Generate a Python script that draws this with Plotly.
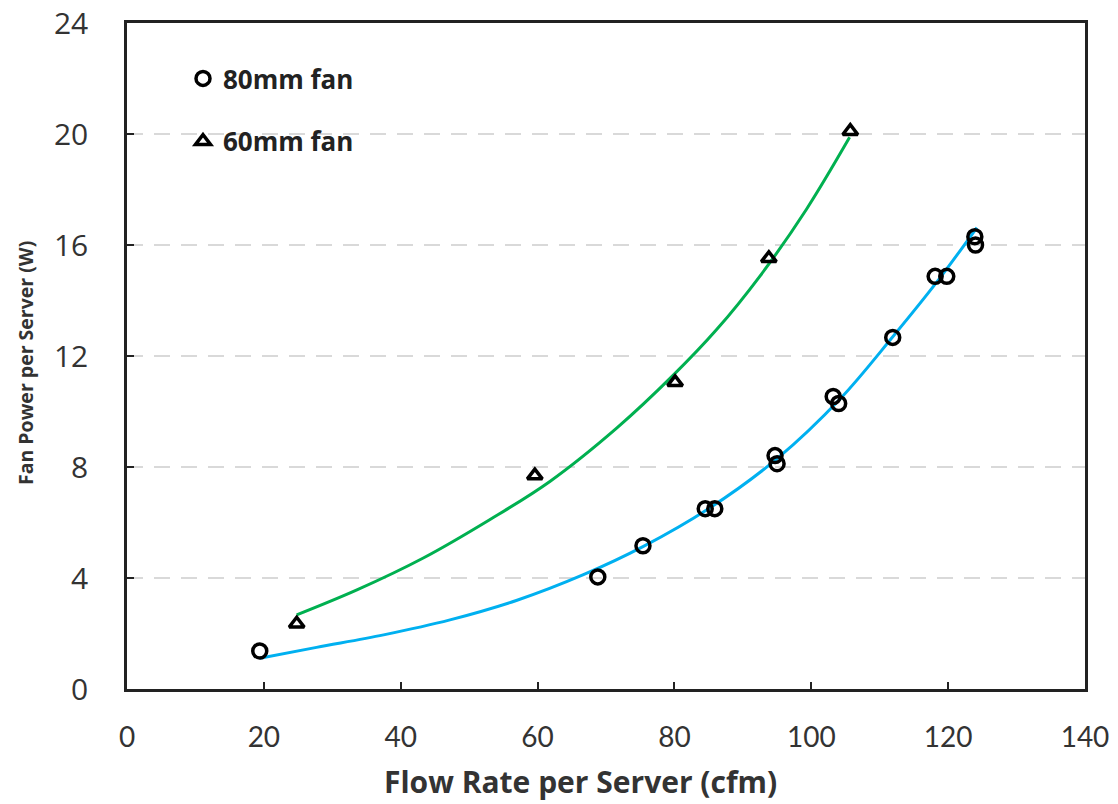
import plotly.graph_objects as go

# 80 mm fan measured points
fan80_x = [19.4, 68.8, 75.4, 84.5, 85.9, 94.7, 95.0, 103.2, 104.0, 111.9, 118.1, 119.8, 123.9, 124.0]
fan80_y = [1.37, 4.04, 5.16, 6.5, 6.5, 8.41, 8.12, 10.54, 10.29, 12.67, 14.87, 14.87, 16.3, 16.0]

# 60 mm fan measured points
fan60_x = [24.8, 59.6, 80.1, 93.8, 105.7]
fan60_y = [2.35, 7.69, 11.05, 15.52, 20.1]

# trend curves
trend80_x = [19.4, 27.7, 37.5, 47.2, 56.9, 66.7, 75.4, 85.2, 95.0, 104.2, 112.0, 118.3, 124.2]
trend80_y = [1.11, 1.50, 1.95, 2.49, 3.19, 4.12, 5.13, 6.53, 8.3, 10.45, 12.72, 14.65, 16.63]

trend60_x = [24.8, 33.6, 43.3, 53.0, 61.8, 71.6, 79.8, 86.2, 92.5, 99.3, 105.6]
trend60_y = [2.67, 3.57, 4.72, 6.1, 7.48, 9.41, 11.3, 12.96, 14.88, 17.29, 19.88]

x_ticks = [0, 20, 40, 60, 80, 100, 120, 140]
y_ticks = [0, 4, 8, 12, 16, 20, 24]

W, H = 1118, 804
ML, MR, MT, MB = 127, 33, 23, 115
PW = W - ML - MR
PH = H - MT - MB

fig = go.Figure()

fig.add_trace(go.Scatter(x=trend60_x, y=trend60_y, mode="lines",
                         line=dict(color="#00B050", width=3, shape="spline"),
                         showlegend=False, hoverinfo="skip"))
fig.add_trace(go.Scatter(x=trend80_x, y=trend80_y, mode="lines",
                         line=dict(color="#00B0F0", width=3, shape="spline"),
                         showlegend=False, hoverinfo="skip"))

fig.add_trace(go.Scatter(x=fan80_x, y=fan80_y, mode="markers", name="<b>80mm fan</b>",
                         legendgroup="a",
                         marker=dict(symbol="circle-open", size=14, color="black",
                                     line=dict(width=3.5, color="black"))))
fig.add_trace(go.Scatter(x=fan60_x, y=fan60_y, mode="markers", name="<b>60mm fan</b>",
                         legendgroup="b",
                         marker=dict(symbol="triangle-up-open", size=13, color="black",
                                     line=dict(width=3.5, color="black"))))

axis_common = dict(
    showline=True, linecolor="#222222", linewidth=2.5, mirror=True,
    ticks="inside", ticklen=7, tickwidth=2, tickcolor="#222222",
    zeroline=False, ticklabeloverflow="allow", automargin=False,
)

fig.update_xaxes(range=[0, 140], tickvals=x_ticks, showgrid=False,
                 ticklabelstandoff=22,
                 tickfont=dict(family="Liberation Sans Narrow, Lato, sans-serif", size=28, color="#333333"),
                 **axis_common)
fig.update_yaxes(range=[0, 24], tickvals=y_ticks, showgrid=True,
                 gridcolor="#D9D9D9", gridwidth=2, griddash="16px,11px",
                 ticklabelstandoff=30,
                 tickfont=dict(family="Open Sans, sans-serif", size=30, color="#333333"),
                 **axis_common)

fig.update_layout(
    width=W, height=H,
    margin=dict(l=ML, r=MR, t=MT, b=MB),
    plot_bgcolor="white", paper_bgcolor="white",
    showlegend=True,
    legend=dict(x=(183 - ML) / PW, y=1 - (55 - MT) / PH, xanchor="left", yanchor="top",
                bgcolor="rgba(0,0,0,0)", tracegroupgap=26,
                traceorder="grouped",
                font=dict(family="Open Sans, sans-serif", size=26, color="#222222")),
    annotations=[
        dict(text="<b>Flow Rate per Server (cfm)</b>",
             x=(580 - ML) / PW, y=-(782 - 689) / PH, xref="paper", yref="paper",
             xanchor="center", yanchor="middle", showarrow=False,
             font=dict(family="Open Sans, sans-serif", size=30, color="#333333")),
        dict(text="<b>Fan Power per Server (W)</b>", textangle=-90,
             x=(25 - ML) / PW, y=1 - (363 - MT) / PH, xref="paper", yref="paper",
             xanchor="center", yanchor="middle", showarrow=False,
             font=dict(family="Open Sans, sans-serif", size=19.5, color="#333333")),
    ],
)

fig.write_html("out.html", config={"displayModeBar": False},
               post_script="document.body.style.margin='0px';")
